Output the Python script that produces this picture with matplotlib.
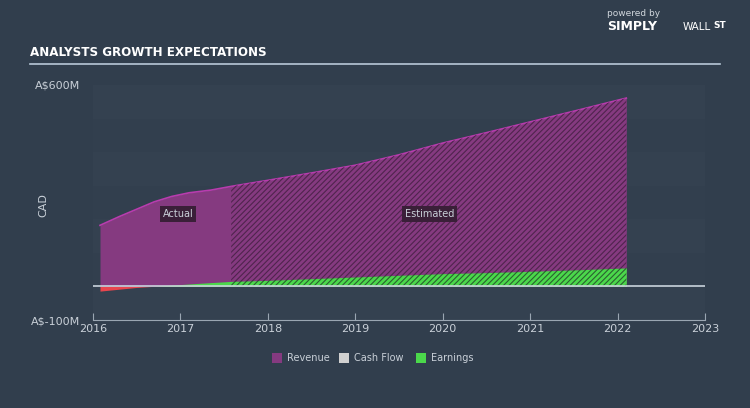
import numpy as np
import matplotlib
matplotlib.use("Agg")
import matplotlib.pyplot as plt
from matplotlib.patches import Rectangle

# данные (млн CAD)
rev_x = [2016.08, 2016.3, 2016.5, 2016.7, 2016.9, 2017.1, 2017.35, 2017.58, 2018.0, 2018.5, 2019.0, 2019.5, 2020.0, 2020.5, 2021.0, 2021.5, 2022.1]
rev_y = [182, 208, 230, 252, 268, 279, 287, 298, 316, 338, 361, 392, 427, 458, 490, 522, 561]
earn_x = [2016.08, 2016.5, 2016.8, 2017.2, 2017.58, 2018.0, 2018.5, 2019.0, 2019.5, 2020.0, 2020.5, 2021.0, 2021.5, 2022.1]
earn_y = [-14, -3, 2, 9, 15, 18, 23, 28, 33, 38, 41, 45, 49, 55]
split_year = 2017.58
years = [2016, 2017, 2018, 2019, 2020, 2021, 2022, 2023]
y_ticks = [-100, 600]
y_labels = ["A$-100M", "A$600M"]
legend_names = ["Revenue", "Cash Flow", "Earnings"]

bg = "#313e4d"
rev_col = "#853a80"
rev_edge = "#b83cae"
earn_col = "#4bd84b"
neg_col = "#e8464e"
txt = "#c9d0d8"

plt.rcParams['hatch.linewidth'] = 0.8

fig = plt.figure(figsize=(7.5, 4.08), dpi=100, facecolor=bg)
ax = fig.add_axes([93/750, (408-320)/408, (705-93)/750, (320-85)/408])
ax.set_facecolor("#323f4e")
ax.set_xlim(2016, 2023)
ax.set_ylim(-100, 600)

# полосы фона
for lo in [500, 300, 100, -100]:
    ax.add_patch(Rectangle((2016, lo), 7, 100, facecolor="#344150", edgecolor="none", zorder=0))

rx = np.array(rev_x); ry = np.array(rev_y)
ex = np.array(earn_x); ey = np.array(earn_y)

# выручка
ax.fill_between(rx, 0, ry, color=rev_col, lw=0, zorder=2)
ax.plot(rx, ry, color=rev_edge, lw=1.2, zorder=3)
m = rx >= split_year
ax.fill_between(rx[m], 0, ry[m], facecolor="none", edgecolor="#4f244d", hatch="//////", lw=0, zorder=3)

# прибыль
ax.fill_between(ex, 0, ey, where=ey >= 0, interpolate=True, color=earn_col, lw=0, zorder=4)
ax.fill_between(ex, 0, ey, where=ey <= 0, interpolate=True, color=neg_col, lw=0, zorder=4)
me = ex >= split_year
ax.fill_between(ex[me], 0, ey[me], facecolor="none", edgecolor="#2a6030", hatch="//////", lw=0, zorder=5)

ax.axhline(0, color="#c9d3dc", lw=1.2, zorder=6)

ax.text(2016.97, 215, "Actual", color=txt, fontsize=7, ha="center", va="center", zorder=7,
        bbox=dict(boxstyle="square,pad=0.3", fc="#3a1f38", ec="none"))
ax.text(2019.85, 215, "Estimated", color=txt, fontsize=7, ha="center", va="center", zorder=7,
        bbox=dict(boxstyle="square,pad=0.3", fc="#3a1f38", ec="none"))

for s in ["top", "right", "left"]:
    ax.spines[s].set_visible(False)
ax.spines["bottom"].set_color("#9aa6b2")
ax.set_xticks(years)
ax.set_xticklabels([str(y) for y in years], color=txt, fontsize=8)
ax.tick_params(axis="x", direction="in", length=5, color="#9aa6b2", pad=3)
ax.set_yticks(y_ticks)
ax.set_yticklabels(y_labels, color=txt, fontsize=8)
ax.tick_params(axis="y", length=0, pad=9)
ax.set_ylabel("CAD", color=txt, fontsize=8)
ax.yaxis.set_label_coords(-0.073, 0.49)

# заголовок
fig.text(30/750, 1 - 53/408, "ANALYSTS GROWTH EXPECTATIONS", color="white", fontsize=9.5,
         fontweight="bold", family="DejaVu Sans", fontstretch="condensed", va="center")
fig.add_artist(plt.Line2D([30/750, 720/750], [1 - 64/408, 1 - 64/408], color="#b8c8d8", lw=1.2))

# логотип
fig.text(607/750, 1 - 14/408, "powered by", color="#d0d6dc", fontsize=6.5, va="center")
fig.text(607/750, 1 - 27/408, "SIMPLY", color="white", fontsize=9, fontweight="bold", va="center")
fig.text(683/750, 1 - 27/408, "WALL", color="white", fontsize=7.5, va="center")
fig.text(713/750, 1 - 26/408, "ST", color="white", fontsize=6.5, fontweight="bold", va="center")

# легенда
lx = [272, 339, 416]
for x0, name, c in zip(lx, legend_names, [rev_col, "#d0d0d0", earn_col]):
    fig.add_artist(Rectangle((x0/750, 1 - 363/408), 10/750, 10/408, facecolor=c, edgecolor="none"))
    fig.text((x0 + 15)/750, 1 - 358/408, name, color=txt, fontsize=7, va="center")

fig.savefig("out.png", dpi=100, facecolor=bg)
